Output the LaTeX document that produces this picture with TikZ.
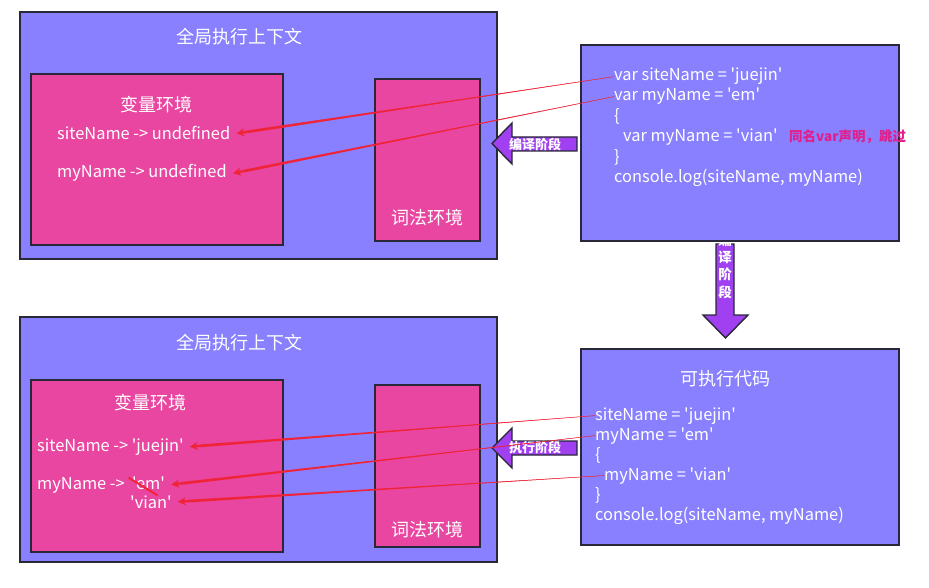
\documentclass[tikz,border=0pt]{standalone}
\usepackage{fontspec}
\newfontfamily\yh{Noto Sans CJK SC}
\usetikzlibrary{calc,arrows.meta}
\definecolor{ctxpurple}{RGB}{136,128,255}
\definecolor{envpink}{RGB}{232,70,160}
\definecolor{arrpurple}{RGB}{160,64,240}
\definecolor{edgec}{RGB}{40,40,56}
\definecolor{linered}{RGB}{240,36,56}
\definecolor{notepink}{RGB}{226,30,140}
\newcommand{\taperarrow}[2]{%
  \coordinate (tmpE) at ($(#2)!11pt!(#1)$);
  \fill[linered] (#1) -- ($(tmpE)!1.4pt!90:(#1)$) -- ($(tmpE)!1.4pt!-90:(#1)$) -- cycle;
  \draw[linered, line width=0.5pt] (#1) -- (tmpE);
  \draw[linered, line width=2.4pt, -{Stealth[length=8pt,width=8pt]}] (tmpE) -- (#2);
}
\begin{document}
\begin{tikzpicture}[x=1pt,y=-1pt,
  ctxbox/.style={draw=edgec, line width=1.6pt, fill=ctxpurple, inner sep=0pt, anchor=north west},
  envbox/.style={draw=edgec, line width=1.6pt, fill=envpink, inner sep=0pt, anchor=north west},
  boxtitle/.style={text=white, inner sep=0pt, font={\yh\fontsize{18}{21}\selectfont}},
  codeline/.style={text=white, inner sep=0pt, anchor=base west, font={\yh\fontsize{16.4}{19}\selectfont}},
  entry/.style={text=white, inner xsep=6pt, inner ysep=1pt, anchor=base west, font={\yh\fontsize{16.4}{19}\selectfont}},
  arrlabel/.style={text=white, inner sep=0pt, font={\yh\bfseries\fontsize{13}{15}\selectfont}},
  blockarrow/.style={draw=edgec, line width=1.4pt, fill=arrpurple, line join=miter}
]
\useasboundingbox (0,0) rectangle (929,588);
\fill[white] (0,0) rectangle (929,588);

% ---------- down arrow (compile phase) ----------
\draw[blockarrow] (716,244) -- (734,244) -- (734,315) -- (748,315) -- (725.5,338) -- (703,315) -- (716,315) -- cycle;
\node[text=white, inner sep=0pt, align=center, font={\yh\bfseries\fontsize{13.5}{17.4}\selectfont}] (vlab) at (725,266) {编\\译\\阶\\段};

% ---------- top row ----------
\node[ctxbox, minimum width=477pt, minimum height=247pt] (ctx1) at (19,11) {};
\node[boxtitle] (ctx1t) at (239,37) {全局执行上下文};
\node[envbox, minimum width=252pt, minimum height=171pt] (var1) at (30,73) {};
\node[boxtitle] (var1t) at (156,105) {变量环境};
\node[envbox, minimum width=105pt, minimum height=162pt] (lex1) at (374,78) {};
\node[boxtitle] (lex1t) at (427,218) {词法环境};
\node[entry] (v1) at (51,140) {siteName -> undefined};
\node[entry] (v2) at (51,178) {myName -> undefined};

\node[ctxbox, minimum width=318pt, minimum height=196pt] (code1) at (580,44) {};
\node[codeline] (c1) at (614,81) {var siteName = 'juejin'};
\node[codeline] (c2) at (614,101) {var myName = 'em'};
\node[codeline] (c3) at (614,122) {\{};
\node[codeline] (c4) at (623,142) {var myName = 'vian'};
\node[codeline] (c5) at (614,163) {\}};
\node[codeline] (c6) at (614,183) {console.log(siteName, myName)};
\node[text=notepink, inner sep=0pt, anchor=west, font={\yh\bfseries\fontsize{13.5}{16}\selectfont}] (note) at (789,137) {同名var声明，跳过};

\draw[blockarrow] (577,137) -- (512,137) -- (512,123) -- (492,143.5) -- (512,164) -- (512,151) -- (577,151) -- cycle;
\node[arrlabel] (lab1) at (535,144) {编译阶段};

\taperarrow{c1.west}{v1.east}
\taperarrow{c2.west}{v2.east}

% ---------- bottom row ----------
\node[ctxbox, minimum width=477pt, minimum height=245pt] (ctx2) at (19,316) {};
\node[boxtitle] (ctx2t) at (239,343) {全局执行上下文};
\node[envbox, minimum width=252pt, minimum height=172pt] (var2) at (30,379) {};
\node[boxtitle] (var2t) at (150,403) {变量环境};
\node[envbox, minimum width=105pt, minimum height=162pt] (lex2) at (374,384) {};
\node[boxtitle] (lex2t) at (427,530) {词法环境};
\node[entry] (w1) at (31,451) {siteName -> 'juejin'};
\node[entry] (w2) at (31,489) {myName ->\ \ 'em'};
\node[entry] (w3) at (124,508) {'vian'};
\draw[linered, line width=2pt, line cap=round] (129,478) -- (157,495);

\node[ctxbox, minimum width=318pt, minimum height=196pt] (code2) at (580,348) {};
\node[boxtitle] (code2t) at (725,379) {可执行代码};
\node[codeline] (e1) at (595,420) {siteName = 'juejin'};
\node[codeline] (e2) at (595,440) {myName = 'em'};
\node[codeline] (e3) at (595,460) {\{};
\node[codeline] (e4) at (604,480) {myName = 'vian'};
\node[codeline] (e5) at (595,500) {\}};
\node[codeline] (e6) at (595,520) {console.log(siteName, myName)};

\draw[blockarrow] (577,441) -- (512,441) -- (512,428) -- (492,448) -- (512,468) -- (512,455) -- (577,455) -- cycle;
\node[arrlabel] (lab2) at (535,448) {执行阶段};

\taperarrow{e1.west}{w1.east}
\taperarrow{e2.west}{w2.east}
\taperarrow{e4.west}{w3.east}
\end{tikzpicture}
\end{document}
